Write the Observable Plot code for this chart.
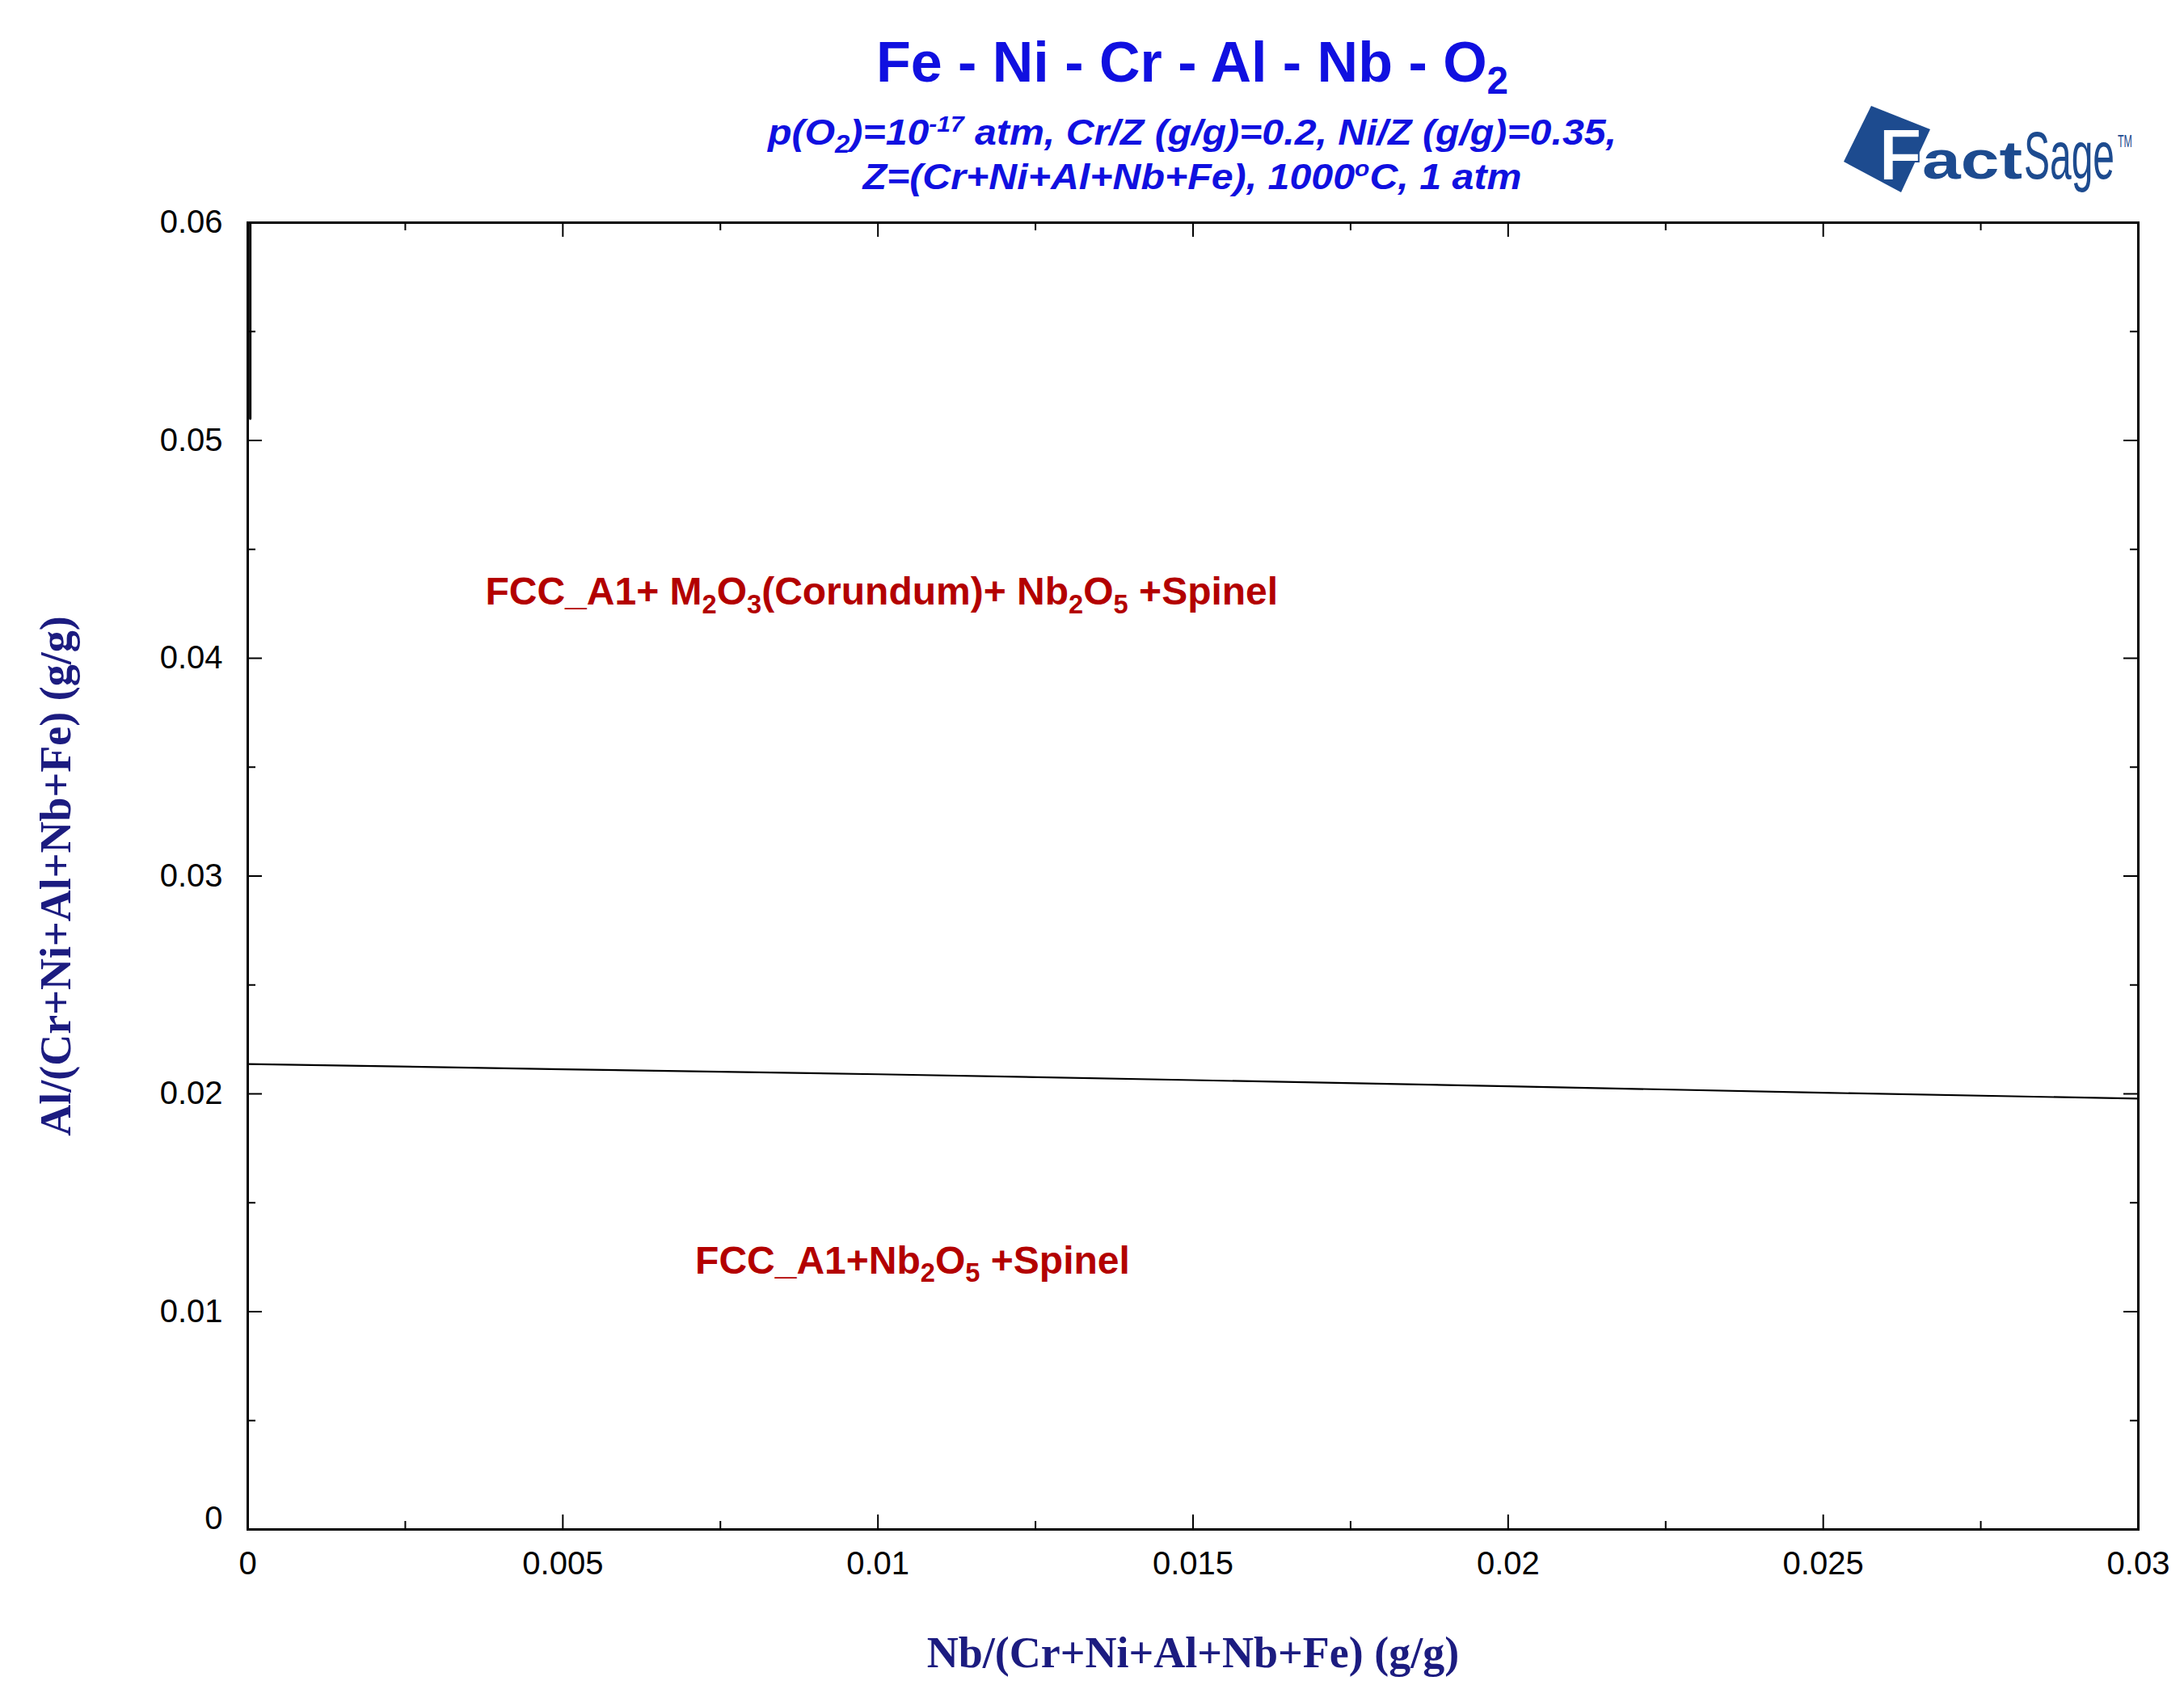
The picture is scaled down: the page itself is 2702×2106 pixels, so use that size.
<!DOCTYPE html>
<html>
<head>
<meta charset="utf-8">
<script src="https://cdn.jsdelivr.net/npm/d3@7"></script>
<script src="https://cdn.jsdelivr.net/npm/@observablehq/plot@0.6"></script>
<style>
  html, body { margin: 0; padding: 0; background: #fff; }
  #wrap { position: relative; width: 2702px; height: 2106px; overflow: hidden; background: #fff; }
  #wrap > svg { position: absolute; left: 0; top: 0; }
</style>
</head>
<body>
<div id="wrap"></div>
<script>
// ---------------- data ----------------
const titleText = "Fe - Ni - Cr - Al - Nb - O_{2}";
const subtitleLines = [
  "p(O_{2})=10^{-17} atm, Cr/Z (g/g)=0.2, Ni/Z (g/g)=0.35,",
  "Z=(Cr+Ni+Al+Nb+Fe), 1000^{o}C, 1 atm"
];
const xLabel = "Nb/(Cr+Ni+Al+Nb+Fe) (g/g)";
const yLabel = "Al/(Cr+Ni+Al+Nb+Fe) (g/g)";

const xDomain = [0, 0.03];
const yDomain = [0, 0.06];
const xMajorTicks = [0, 0.005, 0.01, 0.015, 0.02, 0.025, 0.03];
const xMinorTicks = [0.0025, 0.0075, 0.0125, 0.0175, 0.0225, 0.0275];
const yMajorTicks = [0, 0.01, 0.02, 0.03, 0.04, 0.05, 0.06];
const yMinorTicks = [0.005, 0.015, 0.025, 0.035, 0.045, 0.055];

// phase boundary (Al vs Nb)
const boundaryNb = [0, 0.005, 0.01, 0.015, 0.02, 0.025, 0.03];
const boundaryAl = [0.02137, 0.02113, 0.02090, 0.02063, 0.02035, 0.02005, 0.01978];

// short boundary hugging the left axis
const edgeNb = [0.00004, 0.00004];
const edgeAl = [0.0510, 0.0600];

// region labels
const regionText = [
  "FCC_A1+ M_{2}O_{3}(Corundum)+ Nb_{2}O_{5} +Spinel",
  "FCC_A1+Nb_{2}O_{5} +Spinel"
];
const regionNb = [0.00377, 0.0071];
const regionAl = [0.04245, 0.01176];

// ---------------- helpers ----------------
function rich(textEl, str) {
  const parts = str.split(/(_\{[^}]*\}|\^\{[^}]*\})/).filter(s => s.length);
  const t = d3.select(textEl);
  t.text(null);
  let cur = 0;
  for (const p of parts) {
    let s = 0, k = 1, txt = p;
    if (p.startsWith("_{")) { s = 0.22; k = 0.68; txt = p.slice(2, -1); }
    else if (p.startsWith("^{")) { s = -0.36; k = 0.62; txt = p.slice(2, -1); }
    const ts = t.append("tspan").text(txt);
    if (k !== 1) ts.attr("font-size", (k * 100) + "%");
    if (s !== cur) ts.attr("dy", ((s - cur) / k) + "em");
    cur = s;
  }
}

const boundary = boundaryNb.map((x, i) => ({x, y: boundaryAl[i]}));
const edge = edgeNb.map((x, i) => ({x, y: edgeAl[i]}));
const regions = regionText.map((t, i) => ({t, x: regionNb[i], y: regionAl[i]}));

const axisFont = "'Liberation Sans', Arial, sans-serif";
const titleFont = "'Liberation Serif', 'Times New Roman', serif";
const tick = {stroke: "#000", strokeWidth: 2};

const chart = Plot.plot({
  width: 2702,
  height: 2106,
  marginTop: 275,
  marginLeft: 306,
  marginRight: 57,
  marginBottom: 214,
  x: {domain: xDomain},
  y: {domain: yDomain},
  style: {fontFamily: axisFont, fontSize: "40px", background: "transparent", color: "#000", overflow: "visible"},
  marks: [
    // tick labels
    Plot.axisX({ticks: xMajorTicks, tickSize: 0, tickPadding: 27, tickFormat: d => String(d), label: null, fontSize: 40, fill: "#000"}),
    Plot.axisY({ticks: yMajorTicks.filter(d => d !== 0), tickSize: 0, tickPadding: 31, tickFormat: d => String(d), label: null, fontSize: 40, fill: "#000"}),
    Plot.axisY({ticks: [0], tickSize: 0, tickPadding: 31, dy: -13, tickFormat: d => String(d), label: null, fontSize: 40, fill: "#000"}),
    // inward ticks: bottom / top
    Plot.ruleX(xMajorTicks, {x: d => d, y1: () => yDomain[0], y2: () => yDomain[0], insetBottom: 18, ...tick}),
    Plot.ruleX(xMinorTicks, {x: d => d, y1: () => yDomain[0], y2: () => yDomain[0], insetBottom: 10, ...tick}),
    Plot.ruleX(xMajorTicks, {x: d => d, y1: () => yDomain[1], y2: () => yDomain[1], insetTop: 18, ...tick}),
    Plot.ruleX(xMinorTicks, {x: d => d, y1: () => yDomain[1], y2: () => yDomain[1], insetTop: 10, ...tick}),
    // inward ticks: left / right
    Plot.ruleY(yMajorTicks, {y: d => d, x1: () => xDomain[0], x2: () => xDomain[0], insetLeft: 18, ...tick}),
    Plot.ruleY(yMinorTicks, {y: d => d, x1: () => xDomain[0], x2: () => xDomain[0], insetLeft: 10, ...tick}),
    Plot.ruleY(yMajorTicks, {y: d => d, x1: () => xDomain[1], x2: () => xDomain[1], insetRight: 18, ...tick}),
    Plot.ruleY(yMinorTicks, {y: d => d, x1: () => xDomain[1], x2: () => xDomain[1], insetRight: 10, ...tick}),
    // boundaries
    Plot.line(boundary, {x: "x", y: "y", stroke: "#000", strokeWidth: 2.2}),
    Plot.line(edge, {x: "x", y: "y", stroke: "#000", strokeWidth: 3}),
    // frame
    Plot.frame({stroke: "#000", strokeWidth: 3}),
    // region labels
    Plot.text(regions, {x: "x", y: "y", text: "t", textAnchor: "start", lineAnchor: "bottom",
      fill: "#b30000", fontSize: 48, fontWeight: "bold", fontFamily: axisFont}),
    // axis titles
    Plot.text([xLabel], {text: d => d, frameAnchor: "bottom", textAnchor: "middle", dy: 170, lineAnchor: "bottom",
      fill: "#1c1c80", fontSize: 54, fontWeight: "bold", fontFamily: titleFont}),
    Plot.text([yLabel], {text: d => d, frameAnchor: "left", textAnchor: "middle", dx: -220, rotate: -90, lineAnchor: "bottom",
      fill: "#1c1c80", fontSize: 54, fontWeight: "bold", fontFamily: titleFont})
  ]
});

d3.select(chart).selectAll("text").each(function () {
  const s = this.textContent;
  if (/[_^]\{/.test(s)) rich(this, s);
});

const wrap = document.getElementById("wrap");
wrap.appendChild(chart);

// ---------------- header (title, subtitle, logo) ----------------
const hdr = d3.select(wrap).append("svg")
  .attr("width", 2702).attr("height", 270)
  .style("position", "absolute").style("left", "0px").style("top", "0px");

const cx = 1475;
const t1 = hdr.append("text")
  .attr("x", cx).attr("y", 101).attr("text-anchor", "middle")
  .attr("font-family", axisFont).attr("font-weight", "bold").attr("font-size", 70)
  .attr("fill", "#1010e0");
rich(t1.node(), titleText);

const subBaselines = [179, 234];
const subWidths = [1050, 815];
subtitleLines.forEach((line, i) => {
  const t = hdr.append("text")
    .attr("x", cx).attr("y", subBaselines[i]).attr("text-anchor", "middle")
    .attr("font-family", axisFont).attr("font-weight", "bold").attr("font-style", "italic")
    .attr("font-size", 45).attr("fill", "#1010e0")
    .attr("textLength", subWidths[i]).attr("lengthAdjust", "spacingAndGlyphs");
  rich(t.node(), line);
});

// FactSage logo
const navy = "#1d4b8f";
const logo = hdr.append("g");
logo.append("polygon")
  .attr("points", "2281,200 2315,131 2388,160 2352,238")
  .attr("fill", navy);
logo.append("text")
  .attr("x", 2324).attr("y", 223)
  .attr("font-family", axisFont).attr("font-weight", "bold").attr("font-size", 90)
  .attr("fill", "#fff").attr("stroke", navy).attr("stroke-width", 2)
  .attr("textLength", 54).attr("lengthAdjust", "spacingAndGlyphs")
  .text("F");
logo.append("text")
  .attr("x", 2378).attr("y", 221)
  .attr("font-family", axisFont).attr("font-weight", "bold").attr("font-size", 66)
  .attr("fill", navy)
  .attr("textLength", 124).attr("lengthAdjust", "spacingAndGlyphs")
  .text("act");
logo.append("text")
  .attr("x", 2504).attr("y", 221)
  .attr("font-family", axisFont).attr("font-size", 84)
  .attr("fill", navy)
  .attr("textLength", 112).attr("lengthAdjust", "spacingAndGlyphs")
  .text("Sage");
logo.append("text")
  .attr("x", 2620).attr("y", 182)
  .attr("font-family", axisFont).attr("font-size", 22)
  .attr("fill", navy)
  .attr("textLength", 18).attr("lengthAdjust", "spacingAndGlyphs")
  .text("TM");
</script>
</body>
</html>
